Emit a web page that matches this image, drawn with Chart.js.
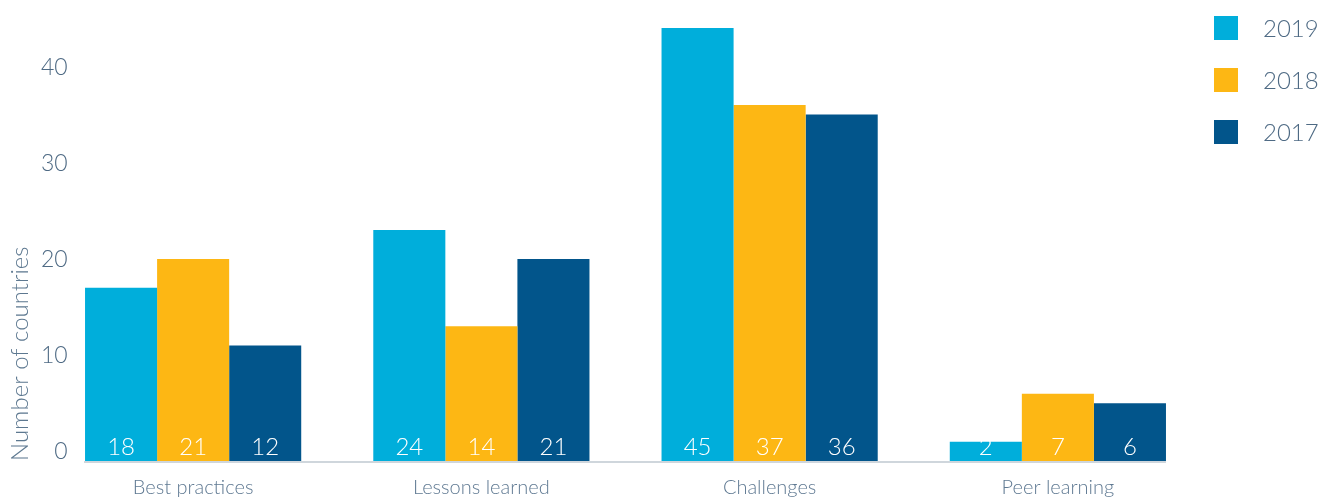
<!DOCTYPE html>
<html>
<head>
<meta charset="utf-8">
<script src="https://cdn.jsdelivr.net/npm/chart.js@4/dist/chart.umd.min.js"></script>
<style>
  body { margin: 0; background: #fff; }
  canvas { display: block; }
</style>
</head>
<body>
<canvas id="topicsChart" width="1332" height="500"></canvas>
<script>
const categories = ['Best practices', 'Lessons learned', 'Challenges', 'Peer learning'];
const years = ['2019', '2018', '2017'];
const values2019 = [18, 24, 45, 2];
const values2018 = [21, 14, 37, 7];
const values2017 = [12, 21, 36, 6];
const yTicks = [0, 10, 20, 30, 40];
const yearColors = ['#00aedb', '#fdb714', '#02558b'];

const fontFamily = "Lato, 'Open Sans', sans-serif";

// white value labels sitting at the foot of each bar
const barLabels = {
    id: 'barLabels',
    afterDatasetsDraw(chart) {
        const ctx = chart.ctx;
        ctx.save();
        ctx.font = '300 24px ' + fontFamily;
        ctx.fillStyle = '#ffffff';
        ctx.textAlign = 'center';
        ctx.textBaseline = 'middle';
        chart.data.datasets.forEach((ds, i) => {
            chart.getDatasetMeta(i).data.forEach((bar, j) => {
                ctx.fillText(String(ds.data[j]), bar.x, bar.base - 14);
            });
        });
        ctx.restore();
    }
};

// light baseline under the bars only
const baseLine = {
    id: 'baseLine',
    afterDatasetsDraw(chart) {
        const first = chart.getDatasetMeta(0).data[0];
        const lastMeta = chart.getDatasetMeta(chart.data.datasets.length - 1);
        const last = lastMeta.data[lastMeta.data.length - 1];
        const y = chart.scales.y.getPixelForValue(0);
        const ctx = chart.ctx;
        ctx.save();
        ctx.strokeStyle = '#cfd6dc';
        ctx.lineWidth = 2;
        ctx.beginPath();
        ctx.moveTo(first.x - first.width / 2 - 1, y + 1);
        ctx.lineTo(last.x + last.width / 2, y + 1);
        ctx.stroke();
        ctx.restore();
    }
};

// legend stacked in the top right corner
const sideLegend = {
    id: 'sideLegend',
    afterDraw(chart) {
        const ctx = chart.ctx;
        const x = chart.chartArea.right + 12;
        ctx.save();
        ctx.font = '300 24px ' + fontFamily;
        ctx.textBaseline = 'middle';
        ctx.textAlign = 'left';
        chart.data.datasets.forEach((ds, i) => {
            const top = 16 + i * 52;
            ctx.fillStyle = ds.backgroundColor;
            ctx.fillRect(x, top, 24, 24);
            ctx.fillStyle = '#4e6a84';
            ctx.fillText(ds.label, x + 49, top + 13);
        });
        ctx.restore();
    }
};

const ctx = document.getElementById('topicsChart').getContext('2d');
const topicsChart = new Chart(ctx, {
    type: 'bar',
    data: {
        labels: categories,
        datasets: [
            { label: years[0], data: values2019, backgroundColor: yearColors[0] },
            { label: years[1], data: values2018, backgroundColor: yearColors[1] },
            { label: years[2], data: values2017, backgroundColor: yearColors[2] }
        ]
    },
    options: {
        responsive: false,
        animation: false,
        devicePixelRatio: 1,
        layout: { padding: { top: 28, right: 130, left: 0, bottom: 0 } },
        datasets: {
            bar: { categoryPercentage: 0.75, barPercentage: 1, borderWidth: 0 }
        },
        plugins: {
            legend: { display: false },
            tooltip: { enabled: false }
        },
        scales: {
            x: {
                afterFit(scale) {
                    scale.height = 39;
                },
                grid: { display: false, drawTicks: false },
                border: { display: false },
                ticks: {
                    padding: 15,
                    color: '#5f7992',
                    font: { family: fontFamily, size: 20, weight: '300' }
                }
            },
            y: {
                min: 0,
                max: 45,
                afterBuildTicks(scale) {
                    scale.ticks = yTicks.map(v => ({ value: v }));
                },
                afterFit(scale) {
                    scale.width = 49;
                },
                grid: { display: false, drawTicks: false },
                border: { display: false },
                ticks: {
                    mirror: true,
                    crossAlign: 'far',
                    padding: -8,
                    labelOffset: -9,
                    color: '#4e6a84',
                    font: { family: fontFamily, size: 23, weight: '300' }
                },
                title: {
                    display: true,
                    text: 'Number of countries',
                    align: 'start',
                    color: '#5d7890',
                    padding: { top: 6, bottom: 0 },
                    font: { family: fontFamily, size: 24, weight: '300' }
                }
            }
        }
    },
    plugins: [barLabels, baseLine, sideLegend]
});
</script>
</body>
</html>
